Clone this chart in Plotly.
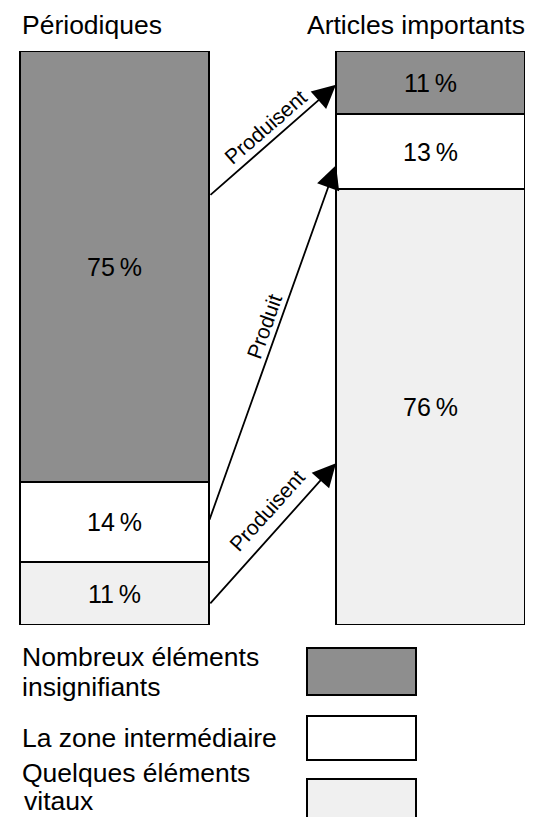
import plotly.graph_objects as go

# ---- data ----
bar_names = ["Périodiques", "Articles importants"]
segment_names = ["Quelques éléments vitaux", "La zone intermédiaire", "Nombreux éléments insignifiants"]
periodiques = [11, 14, 75]          # bottom -> top
articles = [76, 13, 11]             # bottom -> top
arrow_labels = ["Produisent", "Produit", "Produisent"]
arrow_from = [74.7, 18.1, 3.5]      # % height on left bar where arrow starts
arrow_to = [94.1, 80.1, 28.2]       # % height on right bar where arrow ends
legend_lines = [["Nombreux éléments", "insignifiants"], ["La zone intermédiaire"], ["Quelques éléments", "vitaux"]]

FONT = "Liberation Sans, Arial, Helvetica, sans-serif"
seg_colors = ["#f0f0f0", "#ffffff", "#8e8e8e"]
BAR_W = 0.598
BIG = 26.5

fig = go.Figure()
for i, name in enumerate(segment_names):
    fig.add_trace(go.Bar(
        x=[0, 1], y=[periodiques[i], articles[i]], width=BAR_W,
        name=name, marker=dict(color=seg_colors[i], line=dict(color="black", width=2)),
        texttemplate="%{y}\u2009%", textposition="inside", insidetextanchor="middle",
        textangle=0, textfont=dict(family=FONT, size=25, color="black"),
        hoverinfo="skip", showlegend=False,
    ))

annotations = []
# titles
annotations.append(dict(text=bar_names[0], x=12/533, y=(817-17)/817, xref="paper", yref="paper",
                        xanchor="left", yanchor="middle", showarrow=False,
                        font=dict(family=FONT, size=BIG, color="black")))
annotations.append(dict(text=bar_names[1], x=519/533, y=(817-17)/817, xref="paper", yref="paper",
                        xanchor="right", yanchor="middle", showarrow=False,
                        font=dict(family=FONT, size=BIG, color="black")))

# arrows
x_tail = 0 + BAR_W/2
x_tip = 1 - BAR_W/2
for f, t in zip(arrow_from, arrow_to):
    annotations.append(dict(x=x_tip, y=t, ax=x_tail, ay=f, xref="x", yref="y", axref="x", ayref="y",
                            text="", showarrow=True, arrowhead=2, arrowsize=2.6, arrowwidth=1.8,
                            arrowcolor="black", standoff=0, startstandoff=0))
# arrow labels
label_pos = [(0.479, 86.9, -41), (0.476, 52.1, -70.5), (0.483, 19.9, -48)]
for lab, (lx, ly, ang) in zip(arrow_labels, label_pos):
    annotations.append(dict(text=lab, x=lx, y=ly, xref="x", yref="y", showarrow=False,
                            textangle=ang, xanchor="center", yanchor="middle",
                            font=dict(family=FONT, size=21, color="black")))

# legend text
legend_y = [[649, 679], [730], [765, None]]
legend_x = [[12, 12], [12], [12, 14]]
for lines, ys, xs in zip(legend_lines, legend_y, legend_x):
    for line, yy, xx in zip(lines, ys, xs):
        if yy is None:
            pos = dict(y=7/817, yanchor="bottom")
        else:
            pos = dict(y=(817-yy)/817, yanchor="middle")
        annotations.append(dict(text=line, x=xx/533, xref="paper", yref="paper",
                                xanchor="left", showarrow=False,
                                font=dict(family=FONT, size=BIG, color="black"), **pos))

# legend swatches
swatch_y = [(640, 687), (708, 752), (771, 830)]
swatch_colors = [seg_colors[2], seg_colors[1], seg_colors[0]]
shapes = []
for (y0, y1), c in zip(swatch_y, swatch_colors):
    shapes.append(dict(type="rect", xref="paper", yref="paper",
                       x0=299/533, x1=408/533, y0=(817-y1)/817, y1=(817-y0)/817,
                       fillcolor=c, line=dict(color="black", width=2)))

fig.update_layout(
    width=533, height=817, margin=dict(l=0, r=0, t=0, b=0),
    paper_bgcolor="white", plot_bgcolor="white",
    barmode="stack", bargap=0,
    xaxis=dict(range=[-0.337, 1.3497], visible=False, fixedrange=True),
    yaxis=dict(range=[0, 100], domain=[200/817, 774/817], visible=False, fixedrange=True),
    annotations=annotations, shapes=shapes,
)

fig.write_html("out.html")
